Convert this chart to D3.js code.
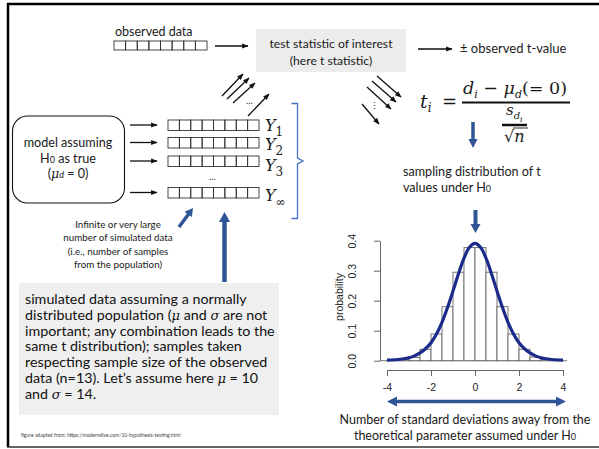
<!DOCTYPE html>
<html>
<head>
<meta charset="utf-8">
<script src="https://cdn.jsdelivr.net/npm/d3@7"></script>
<style>
  body { margin: 0; background: #fff; }
  svg { display: block; }
  .sans { font-family: Lato, "Open Sans", sans-serif; fill: #1a1a1a; }
  .math { font-family: "DejaVu Serif", "Liberation Serif", serif; font-style: italic; fill: #1a1a1a; }
</style>
</head>
<body>
<div id="chart"></div>
<script>
// histogram of simulated t values
const binStarts = [-4, -3.5, -3, -2.5, -2, -1.5, -1, -0.5, 0, 0.5, 1, 1.5, 2, 2.5, 3, 3.5]
const binHeights = [0.001, 0.004, 0.011, 0.038, 0.089, 0.18, 0.295, 0.377, 0.377, 0.295, 0.18, 0.089, 0.038, 0.012, 0.004, 0.001]
const binWidth = 0.5

// density curve
const curveX = [-4, -3.5, -3, -2.75, -2.5, -2.25, -2, -1.75, -1.5, -1.25, -1, -0.75, -0.5, -0.25, 0,
                0.25, 0.5, 0.75, 1, 1.25, 1.5, 1.75, 2, 2.25, 2.5, 2.75, 3, 3.5, 4]
const curveY = [0.002, 0.004, 0.010, 0.016, 0.026, 0.040, 0.060, 0.089, 0.128, 0.177, 0.232, 0.290, 0.342, 0.378, 0.391,
                0.378, 0.342, 0.290, 0.232, 0.177, 0.128, 0.089, 0.060, 0.040, 0.026, 0.016, 0.010, 0.004, 0.002]

const xTicks = [-4, -2, 0, 2, 4]
const yTicks = [0, 0.1, 0.2, 0.3, 0.4]

const sampleRows = ['1', '2', '3', '∞']
const boxesPerRow = 8

const bottomLines = [
  'simulated data assuming a normally',
  ['distributed population (', 'μ', ' and ', 'σ', ' are not'],
  'important; any combination leads to the',
  'same t distribution); samples taken',
  'respecting sample size of the observed',
  ['data (n=13).  Let\u2019s assume here ', 'μ', ' = 10'],
  ['and ', 'σ', ' = 14.']
]
const smallNote = ['Infinite or very large', 'number of simulated data', '(i.e., number of samples', 'from the population)']

const W = 599, H = 449
const blue = '#2f5597'
const navy = '#1c2a8a'

const svg = d3.select('#chart').append('svg').attr('width', W).attr('height', H)

const defs = svg.append('defs')
defs.append('marker').attr('id', 'ah')
  .attr('viewBox', '0 0 10 10').attr('refX', 9).attr('refY', 5)
  .attr('markerWidth', 5).attr('markerHeight', 5).attr('orient', 'auto')
  .append('path').attr('d', 'M0,1 L10,5 L0,9 Z').attr('fill', '#111')

// fat arrow as polygon
function fatArrow(g, x1, y1, x2, y2, shaft, headW, headL, color) {
  const dx = x2 - x1, dy = y2 - y1, len = Math.hypot(dx, dy)
  const ux = dx / len, uy = dy / len, nx = -uy, ny = ux
  const bx = x2 - ux * headL, by = y2 - uy * headL
  const pts = [
    [x1 + nx * shaft / 2, y1 + ny * shaft / 2],
    [bx + nx * shaft / 2, by + ny * shaft / 2],
    [bx + nx * headW / 2, by + ny * headW / 2],
    [x2, y2],
    [bx - nx * headW / 2, by - ny * headW / 2],
    [bx - nx * shaft / 2, by - ny * shaft / 2],
    [x1 - nx * shaft / 2, y1 - ny * shaft / 2]
  ]
  g.append('path').attr('d', 'M' + pts.map(p => p.join(',')).join('L') + 'Z').attr('fill', color)
}
function thinArrow(x1, y1, x2, y2) {
  svg.append('line').attr('x1', x1).attr('y1', y1).attr('x2', x2).attr('y2', y2)
    .attr('stroke', '#111').attr('stroke-width', 1.3).attr('marker-end', 'url(#ah)')
}

// frame
svg.append('line').attr('x1', 7).attr('x2', W).attr('y1', 4).attr('y2', 4).attr('stroke', '#000').attr('stroke-width', 2.5)
svg.append('line').attr('x1', 8).attr('x2', 8).attr('y1', 3).attr('y2', 447).attr('stroke', '#000').attr('stroke-width', 2.5)
svg.append('line').attr('x1', 7).attr('x2', W).attr('y1', 447).attr('y2', 447).attr('stroke', '#333').attr('stroke-width', 1.5)

// observed data
svg.append('text').attr('class', 'sans').attr('x', 115).attr('y', 36).attr('font-size', 12.5).text('observed data')
const obsX = d3.scaleBand().domain(d3.range(boxesPerRow)).range([114, 207])
svg.append('g').selectAll('rect').data(d3.range(boxesPerRow)).join('rect')
  .attr('x', d => obsX(d)).attr('y', 41).attr('width', obsX.bandwidth()).attr('height', 9)
  .attr('fill', 'none').attr('stroke', '#333').attr('stroke-width', 0.9)
thinArrow(215, 46, 248, 46)

// test statistic box
svg.append('rect').attr('x', 256).attr('y', 29).attr('width', 150).attr('height', 43).attr('fill', '#ececec')
svg.append('text').attr('class', 'sans').attr('x', 331).attr('y', 48).attr('font-size', 12.2).attr('text-anchor', 'middle').text('test statistic of interest')
svg.append('text').attr('class', 'sans').attr('x', 331).attr('y', 65).attr('font-size', 12.2).attr('text-anchor', 'middle').text('(here t statistic)')
thinArrow(418, 49, 452, 49)
svg.append('text').attr('class', 'sans').attr('x', 460).attr('y', 53).attr('font-size', 13).text('± observed t-value')

// diagonal arrows up
;[[222, 96, 243, 74], [227, 99, 249, 78], [233, 103, 255, 83], [248, 116, 269, 94]].forEach(a => thinArrow(...a))
svg.append('text').attr('class', 'sans').attr('x', 246).attr('y', 104).attr('font-size', 9).text('…')

// diagonal arrows down
;[[377, 76, 401, 97], [372, 81, 396, 102], [367, 87, 391, 109], [362, 104, 379, 124]].forEach(a => thinArrow(...a))
svg.append('text').attr('class', 'sans').attr('x', 370).attr('y', 109).attr('font-size', 9).text('⋮')

// formula
const fm = svg.append('g').attr('class', 'math')
fm.append('text').attr('x', 420).attr('y', 108).attr('font-size', 19).html('t<tspan font-size="12" dy="4">i</tspan>')
fm.append('text').attr('x', 442).attr('y', 108).attr('font-size', 18).attr('font-style', 'normal').text('=')
fm.append('text').attr('x', 463).attr('y', 94).attr('font-size', 17.5)
  .html('d<tspan font-size="11" dy="4">i</tspan><tspan dy="-4" font-style="normal"> − </tspan>μ<tspan font-size="11" dy="4">d</tspan><tspan dy="-4" font-style="normal">(= 0)</tspan>')
fm.append('line').attr('x1', 462).attr('x2', 570).attr('y1', 102.5).attr('y2', 102.5).attr('stroke', '#111').attr('stroke-width', 1.8)
fm.append('text').attr('x', 506).attr('y', 115).attr('font-size', 15)
  .html('s<tspan font-size="10" dy="4">d</tspan><tspan font-size="8" dy="3">i</tspan>')
fm.append('line').attr('x1', 502).attr('x2', 527).attr('y1', 125).attr('y2', 125).attr('stroke', '#111').attr('stroke-width', 2.5)
fm.append('text').attr('x', 504).attr('y', 142).attr('font-size', 16).html('<tspan font-style="normal">√</tspan>n')
fm.append('line').attr('x1', 513).attr('x2', 528).attr('y1', 128).attr('y2', 128).attr('stroke', '#111').attr('stroke-width', 0.9)

fatArrow(svg, 473, 122, 473, 148, 3.5, 9, 9, blue)
svg.append('text').attr('class', 'sans').attr('x', 403).attr('y', 176).attr('font-size', 12.6).text('sampling distribution of t')
svg.append('text').attr('class', 'sans').attr('x', 403).attr('y', 192).attr('font-size', 12.6).html('values under H<tspan font-size="9">0</tspan>')

// model box
svg.append('rect').attr('x', 12.5).attr('y', 116).attr('width', 112).attr('height', 87).attr('rx', 15)
  .attr('fill', 'none').attr('stroke', '#111').attr('stroke-width', 1.1)
svg.append('text').attr('class', 'sans').attr('x', 68).attr('y', 147).attr('font-size', 12.6).attr('text-anchor', 'middle').text('model assuming')
svg.append('text').attr('class', 'sans').attr('x', 68).attr('y', 163).attr('font-size', 12.6).attr('text-anchor', 'middle').html('H<tspan font-size="9">0</tspan> as true')
svg.append('text').attr('class', 'sans').attr('x', 68).attr('y', 178).attr('font-size', 12.6).attr('text-anchor', 'middle')
  .html('(<tspan font-family="DejaVu Serif" font-style="italic">μ</tspan><tspan font-style="italic" font-size="9">d</tspan> = 0)')

// simulated samples
const rowYpos = r => r === '∞' ? 187.5 : [120, 137.5, 156][sampleRows.indexOf(r)]
const bx = d3.scaleBand().domain(d3.range(boxesPerRow)).range([168, 259])
sampleRows.forEach(r => {
  const y0 = rowYpos(r)
  thinArrow(130, y0 + 5, 157, y0 + 5)
  svg.append('g').selectAll('rect').data(d3.range(boxesPerRow)).join('rect')
    .attr('x', d => bx(d)).attr('y', y0).attr('width', bx.bandwidth()).attr('height', 10.5)
    .attr('fill', 'none').attr('stroke', '#333').attr('stroke-width', 0.9)
  svg.append('text').attr('class', 'math').attr('x', 265).attr('y', y0 + (r === '∞' ? 13 : 11) + (r === '3' ? 4 : 0) + (r === '2' ? 1 : 0))
    .attr('font-size', 16).html('Y<tspan font-size="12" font-style="normal" dy="5">' + r + '</tspan>')
})
svg.append('text').attr('class', 'sans').attr('x', 209).attr('y', 180).attr('font-size', 9).text('…')

// bracket
svg.append('path').attr('d', 'M291.5,103.5 H297.5 V158 L303,161 L297.5,164 V218.5 H291.5')
  .attr('fill', 'none').attr('stroke', '#4472c4').attr('stroke-width', 1.3)

fatArrow(svg, 179, 227, 193, 208, 3.5, 9, 8, blue)
smallNote.forEach((t, i) => {
  svg.append('text').attr('class', 'sans').attr('x', 118).attr('y', 228 + i * 13.3).attr('font-size', 9.8)
    .attr('text-anchor', 'middle').text(t)
})
fatArrow(svg, 224.5, 282, 224.5, 212, 4.5, 11, 10, blue)

// bottom gray box
svg.append('rect').attr('x', 19).attr('y', 283).attr('width', 260).attr('height', 132).attr('fill', '#efefef')
bottomLines.forEach((ln, i) => {
  const t = svg.append('text').attr('class', 'sans').attr('x', 25).attr('y', 304 + i * 15.8).attr('font-size', 14.3).style('fill', '#111')
  if (typeof ln === 'string') t.text(ln)
  else ln.forEach((s, j) => t.append('tspan').text(s)
    .attr('font-family', j % 2 ? '"DejaVu Serif", serif' : null).attr('font-style', j % 2 ? 'italic' : null)
    .attr('font-size', j % 2 ? 13 : null))
})
svg.append('text').attr('class', 'sans').attr('x', 21).attr('y', 437).attr('font-size', 5).style('fill', '#444')
  .text('figure adapted from: https://moderndive.com/10-hypothesis-testing.html')

// histogram panel
const x = d3.scaleLinear().domain([-4, 4]).range([387, 563])
const y = d3.scaleLinear().domain([0, 0.4]).range([360.7, 240.7])

svg.append('line').attr('x1', 380).attr('x2', 567).attr('y1', y(0)).attr('y2', y(0)).attr('stroke', '#777').attr('stroke-width', 1)
svg.append('g').selectAll('rect').data(binStarts).join('rect')
  .attr('x', d => x(d)).attr('width', d => x(d + binWidth) - x(d))
  .attr('y', (d, i) => y(binHeights[i])).attr('height', (d, i) => y(0) - y(binHeights[i]))
  .attr('fill', '#fff').attr('stroke', '#666').attr('stroke-width', 0.9)

const line = d3.line().x(d => x(d[0])).y(d => y(d[1])).curve(d3.curveCatmullRom)
svg.append('path').datum(d3.zip(curveX, curveY)).attr('d', line)
  .attr('fill', 'none').attr('stroke', navy).attr('stroke-width', 3.2)

const xAxis = svg.append('g').attr('transform', 'translate(0,370)')
  .call(d3.axisBottom(x).tickValues(xTicks).tickFormat(d => String(d)).tickSize(6).tickSizeOuter(0).tickPadding(8))
xAxis.selectAll('text').attr('font-family', '"Liberation Sans", Arial, sans-serif').attr('font-size', 10.5).attr('fill', '#222')
xAxis.selectAll('path,line').attr('stroke', '#666')

const yAxis = svg.append('g').attr('transform', 'translate(380,0)')
  .call(d3.axisLeft(y).tickValues(yTicks).tickFormat(d3.format('.1f')).tickSize(6).tickSizeOuter(0))
yAxis.selectAll('path,line').attr('stroke', '#666')
yAxis.selectAll('text').attr('font-family', '"Liberation Sans", Arial, sans-serif').attr('font-size', 10.5).attr('fill', '#222')
  .attr('transform', 'rotate(-90)').attr('x', 0).attr('y', -28).attr('dy', '0.35em').attr('text-anchor', 'middle')

svg.append('text').attr('transform', 'translate(343,297) rotate(-90)').attr('text-anchor', 'middle')
  .attr('font-family', '"Liberation Sans", Arial, sans-serif').attr('font-size', 10.5).attr('fill', '#222').text('probability')

fatArrow(svg, 475.5, 210, 475.5, 233, 4, 10, 9, blue)

// double arrow under axis
fatArrow(svg, 476, 401.5, 566, 401.5, 3.5, 10, 10, blue)
fatArrow(svg, 476, 401.5, 387, 401.5, 3.5, 10, 10, blue)

svg.append('text').attr('class', 'sans').attr('x', 465).attr('y', 424).attr('font-size', 12.5).attr('text-anchor', 'middle')
  .text('Number of standard deviations away from the')
svg.append('text').attr('class', 'sans').attr('x', 465).attr('y', 440).attr('font-size', 12.5).attr('text-anchor', 'middle')
  .html('theoretical parameter assumed under H<tspan font-size="9">0</tspan>')
</script>
</body>
</html>
